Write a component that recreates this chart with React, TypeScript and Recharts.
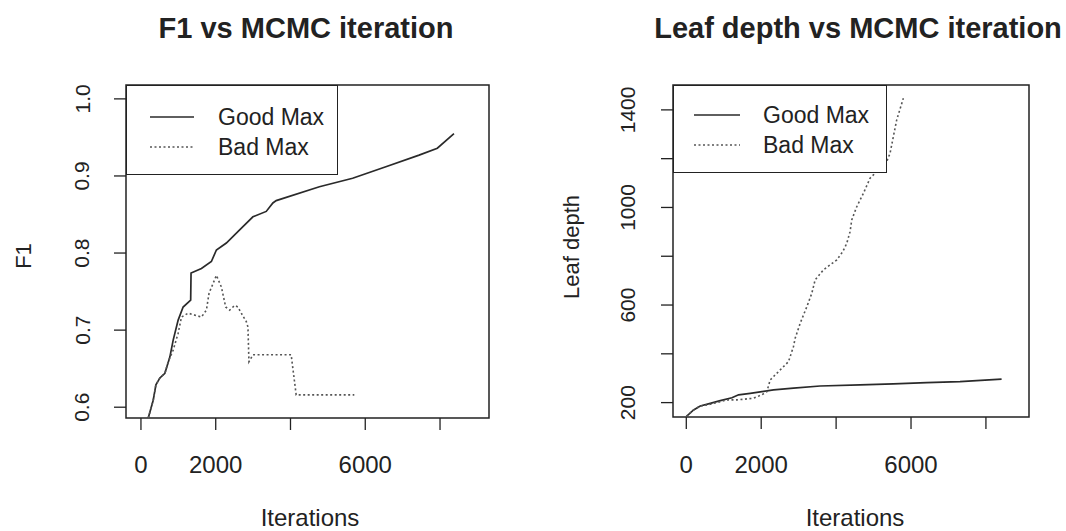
import React from 'react';
import { LineChart, Line, XAxis, YAxis, ReferenceArea, Legend } from 'recharts';

// F1 panel (left)
const GOOD_F1_ITER = [195, 328, 400, 507, 640, 773, 862, 995, 1128, 1330, 1340, 1618, 1884, 2018, 2284, 2640, 2995, 3351, 3529, 3618, 4773, 5662, 6551, 7440, 7928, 8373];
const GOOD_F1 = [0.586, 0.609, 0.629, 0.638, 0.644, 0.665, 0.687, 0.713, 0.73, 0.739, 0.774, 0.78, 0.789, 0.804, 0.813, 0.83, 0.847, 0.854, 0.865, 0.868, 0.886, 0.897, 0.912, 0.927, 0.936, 0.955];
const BAD_F1_ITER = [195, 328, 400, 507, 640, 729, 862, 995, 1084, 1262, 1618, 1751, 1822, 2018, 2151, 2267, 2373, 2507, 2595, 2684, 2818, 2862, 2889, 2995, 4018, 4080, 4152, 5707];
const BAD_F1 = [0.586, 0.609, 0.629, 0.638, 0.644, 0.659, 0.674, 0.696, 0.717, 0.722, 0.717, 0.726, 0.748, 0.771, 0.756, 0.73, 0.726, 0.732, 0.73, 0.722, 0.711, 0.704, 0.659, 0.668, 0.668, 0.644, 0.616, 0.616];

// Leaf depth panel (right)
const GOOD_DEPTH_ITER = [0, 195, 373, 640, 907, 1218, 1396, 1707, 2018, 2329, 2862, 3573, 4640, 5529, 6418, 7307, 8418];
const GOOD_DEPTH = [143, 170, 186, 197, 208, 220, 232, 238, 245, 252, 259, 268, 273, 277, 282, 286, 296];
const BAD_DEPTH_ITER = [0, 195, 373, 640, 1085, 1351, 1795, 2018, 2151, 2240, 2507, 2729, 2862, 2907, 3040, 3218, 3351, 3440, 3662, 4018, 4178, 4284, 4373, 4418, 4551, 4729, 4907, 5084, 5262, 5440, 5529, 5618, 5796];
const BAD_DEPTH = [143, 170, 186, 193, 211, 211, 218, 232, 245, 293, 334, 368, 430, 464, 525, 593, 648, 703, 744, 785, 819, 853, 901, 949, 1003, 1058, 1120, 1147, 1154, 1222, 1291, 1359, 1448];

// ticks (R only prints labels that fit)
const X_TICKS = [0, 2000, 4000, 6000, 8000];
const X_LABELS = [0, 2000, 6000];
const F1_TICKS = [0.6, 0.7, 0.8, 0.9, 1.0];
const DEPTH_TICKS = [200, 400, 600, 800, 1000, 1200, 1400];
const DEPTH_LABELS = [200, 600, 1000, 1400];

const SERIES_NAMES = ['Good Max', 'Bad Max'];

const FONT = '"Liberation Sans", Arial, Helvetica, sans-serif';
const INK = '#222';

const toPoints = (xs: number[], ys: number[]) => xs.map((x, i) => ({ iter: x, value: ys[i] }));

const makeXTick = (dy: number) => (props: any) => {
  const { x, y, payload } = props;
  if (!X_LABELS.includes(payload.value)) return <g />;
  return (
    <text x={x} y={y + dy} textAnchor="middle" dominantBaseline="central" fontSize={24} fontFamily={FONT} fill={INK}>
      {payload.value}
    </text>
  );
};

const makeYTick = (dx: number, labels: number[] | null, fmt: (v: number) => string) => (props: any) => {
  const { x, y, payload } = props;
  if (labels && !labels.includes(payload.value)) return <g />;
  const cx = x + dx;
  return (
    <text x={cx} y={y} transform={`rotate(-90 ${cx} ${y})`} textAnchor="middle" dominantBaseline="central" fontSize={21} fontFamily={FONT} fill={INK}>
      {fmt(payload.value)}
    </text>
  );
};

const makeLegend = (sampleX: number, sampleLen: number, textX: number, rowY: number[]) => (props: any) => {
  // keep the order the series were plotted in
  const payload = [...(props.payload || [])].sort(
    (a: any, b: any) => SERIES_NAMES.indexOf(a.value) - SERIES_NAMES.indexOf(b.value)
  );
  return (
    <div style={{ position: 'relative', width: '100%', height: '100%', boxSizing: 'border-box', border: `1.5px solid ${INK}`, background: '#fff' }}>
      {payload.map((entry: any, i: number) => (
        <React.Fragment key={entry.value}>
          <svg style={{ position: 'absolute', left: sampleX, top: rowY[i] - 3 }} width={sampleLen} height={6}>
            <line x1={0} y1={3} x2={sampleLen} y2={3} stroke={entry.color} strokeWidth={1.6} strokeDasharray={entry.payload?.strokeDasharray} />
          </svg>
          <div style={{ position: 'absolute', left: textX, top: rowY[i] - 14, fontFamily: FONT, fontSize: 23, lineHeight: '28px', color: INK, whiteSpace: 'nowrap' }}>
            {entry.value}
          </div>
        </React.Fragment>
      ))}
    </div>
  );
};

interface PanelProps {
  left: number;
  margin: { top: number; right: number; bottom: number; left: number };
  xDomain: [number, number];
  yDomain: [number, number];
  yTicks: number[];
  yTick: (p: any) => React.ReactElement;
  xTick: (p: any) => React.ReactElement;
  good: { iter: number; value: number }[];
  bad: { iter: number; value: number }[];
  legendBox: { left: number; top: number; width: number; height: number };
  legend: (p: any) => React.ReactElement;
}

const Panel: React.FC<PanelProps> = (p) => (
  <div style={{ position: 'absolute', left: p.left, top: 0 }}>
    <LineChart width={533} height={531} margin={p.margin}>
      <XAxis
        dataKey="iter"
        type="number"
        domain={p.xDomain}
        allowDataOverflow
        ticks={X_TICKS}
        tick={p.xTick}
        tickSize={12}
        tickMargin={0}
        axisLine={false}
        tickLine={{ stroke: INK, strokeWidth: 1.3 }}
        height={30}
      />
      <YAxis
        dataKey="value"
        type="number"
        domain={p.yDomain}
        allowDataOverflow
        ticks={p.yTicks}
        tick={p.yTick}
        tickSize={12}
        tickMargin={0}
        axisLine={false}
        tickLine={{ stroke: INK, strokeWidth: 1.3 }}
        width={60}
      />
      <ReferenceArea
        x1={p.xDomain[0]}
        x2={p.xDomain[1]}
        y1={p.yDomain[0]}
        y2={p.yDomain[1]}
        fill="none"
        stroke={INK}
        strokeWidth={1.5}
        ifOverflow="visible"
      />
      <Line
        data={p.good}
        dataKey="value"
        name={SERIES_NAMES[0]}
        type="linear"
        stroke="#2a2a2a"
        strokeWidth={1.7}
        dot={false}
        activeDot={false}
        isAnimationActive={false}
      />
      <Line
        data={p.bad}
        dataKey="value"
        name={SERIES_NAMES[1]}
        type="linear"
        stroke="#555"
        strokeWidth={1.6}
        strokeDasharray="2 2.5"
        dot={false}
        activeDot={false}
        isAnimationActive={false}
      />
      <Legend
        layout="vertical"
        align="center"
        verticalAlign="middle"
        content={p.legend}
        wrapperStyle={{ ...p.legendBox, margin: 0 }}
      />
    </LineChart>
  </div>
);

const textStyle: React.CSSProperties = { position: 'absolute', fontFamily: FONT, color: INK, whiteSpace: 'nowrap' };

const Title: React.FC<{ cx: number; cy: number; children: React.ReactNode }> = ({ cx, cy, children }) => (
  <div style={{ ...textStyle, left: cx, top: cy, transform: 'translate(-50%, -50%)', fontSize: 29, fontWeight: 'bold' }}>{children}</div>
);

const AxisLabel: React.FC<{ cx: number; cy: number; rotate?: boolean; children: React.ReactNode }> = ({ cx, cy, rotate, children }) => (
  <div
    style={{
      ...textStyle,
      left: cx,
      top: cy,
      lineHeight: 1.1,
      transform: `translate(-50%, -50%)${rotate ? ' rotate(-90deg)' : ''}`,
      fontSize: rotate ? 22 : 24,
    }}
  >
    {children}
  </div>
);

const App: React.FC = () => {
  return (
    <div style={{ position: 'absolute', left: 0, top: 0, width: 1066, height: 531, background: '#fff', overflow: 'hidden' }}>
      <Panel
        left={0}
        margin={{ top: 85, right: 44, bottom: 83, left: 66 }}
        xDomain={[-400, 9310]}
        yDomain={[0.586, 1.018]}
        yTicks={F1_TICKS}
        yTick={makeYTick(-32, null, (v) => v.toFixed(1))}
        xTick={makeXTick(34)}
        good={toPoints(GOOD_F1_ITER, GOOD_F1)}
        bad={toPoints(BAD_F1_ITER, BAD_F1)}
        legendBox={{ left: 126, top: 85, width: 212, height: 90 }}
        legend={makeLegend(23, 44, 91, [31, 61])}
      />
      <Panel
        left={533}
        margin={{ top: 85, right: 37, bottom: 84, left: 80 }}
        xDomain={[-355, 9150]}
        yDomain={[141, 1502]}
        yTicks={DEPTH_TICKS}
        yTick={makeYTick(-33, DEPTH_LABELS, (v) => String(v))}
        xTick={makeXTick(35)}
        good={toPoints(GOOD_DEPTH_ITER, GOOD_DEPTH)}
        bad={toPoints(BAD_DEPTH_ITER, BAD_DEPTH)}
        legendBox={{ left: 140, top: 85, width: 214, height: 88 }}
        legend={makeLegend(20, 46, 89, [29, 59])}
      />
      <Title cx={306} cy={28}>F1 vs MCMC iteration</Title>
      <Title cx={858} cy={28}>Leaf depth vs MCMC iteration</Title>
      <AxisLabel cx={310} cy={518}>Iterations</AxisLabel>
      <AxisLabel cx={855} cy={518}>Iterations</AxisLabel>
      <AxisLabel cx={24} cy={256} rotate>F1</AxisLabel>
      <AxisLabel cx={572} cy={247} rotate>Leaf depth</AxisLabel>
    </div>
  );
};

export default App;
